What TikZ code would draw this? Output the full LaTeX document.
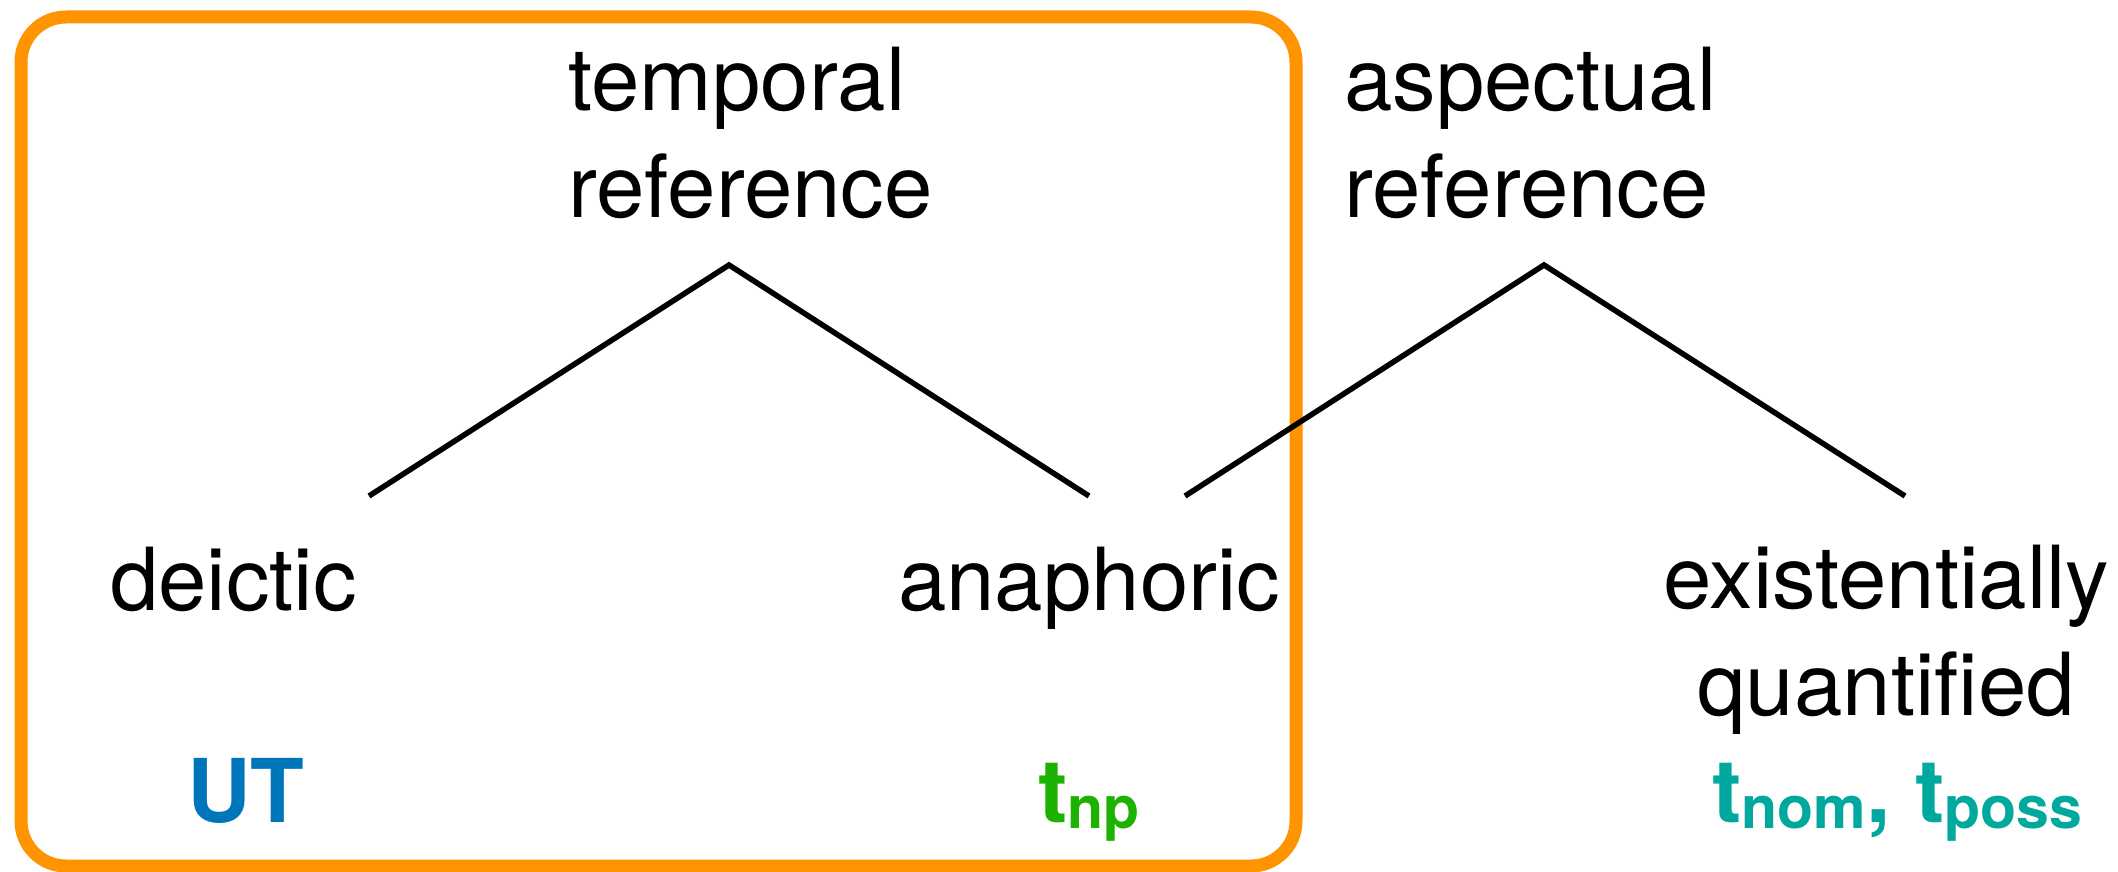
\documentclass[tikz,border=0pt]{standalone}
\usepackage{fontspec}
\setmainfont{TeX Gyre Heros}
\definecolor{boxorange}{HTML}{FF9300}
\definecolor{utblue}{HTML}{0076BA}
\definecolor{npgreen}{HTML}{1DB100}
\definecolor{possteal}{HTML}{00A89D}
\newcommand{\subtx}[1]{\raisebox{-6pt}{\fontsize{59}{59}\selectfont #1}}
\begin{document}
\begin{tikzpicture}[x=1pt,y=-1pt,
  lbl/.style={inner sep=0pt, font=\fontsize{87}{107}\selectfont},
  boldlbl/.style={inner sep=0pt, font=\fontsize{88}{107}\selectfont\bfseries},
  branch/.style={line width=5.5pt, black},
  framebox/.style={line width=13pt, draw=boxorange, rounded corners=45pt}]
\useasboundingbox (0,0) rectangle (2118,872);
% orange frame
\draw[framebox] (21,17) rectangle (1296,866);
% labels
\node[lbl, align=left, anchor=base west] (temporal) at (568,217) {temporal\\reference};
\node[lbl, align=left, anchor=base west] (aspectual) at (1344,217) {aspectual\\reference};
\node[lbl, anchor=base west] (deictic) at (110,610) {deictic};
\node[lbl, anchor=base west] (anaphoric) at (898,610) {anaphoric};
\node[lbl, align=center, anchor=base] (exist) at (1886,715) {existentially\\quantified};
\node[boldlbl, anchor=base west, text=utblue] (ut) at (187,822) {UT};
\node[boldlbl, anchor=base west, text=npgreen] (tnp) at (1038,822) {t\subtx{np}};
\node[boldlbl, anchor=base west, text=possteal] (tposs) at (1712,822) {t\subtx{nom}, t\subtx{poss}};
% tree branches
\coordinate (tApex) at (729,265);
\coordinate (aApex) at (1544,265);
\coordinate (dTop) at (369,496);
\coordinate (anTopL) at (1089,496);
\coordinate (anTopR) at (1185,496);
\coordinate (exTop) at (1905,496);
\draw[branch] (dTop) -- (tApex) -- (anTopL);
\draw[branch] (anTopR) -- (aApex) -- (exTop);
\end{tikzpicture}
\end{document}
